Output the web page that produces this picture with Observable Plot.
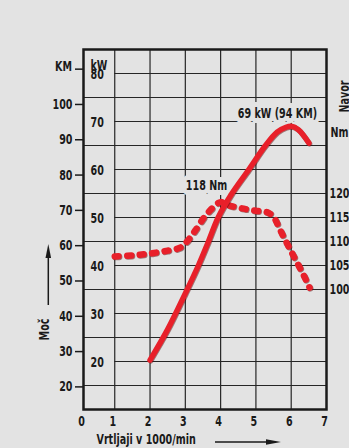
<!DOCTYPE html>
<html><head><meta charset="utf-8">
<script src="https://cdn.jsdelivr.net/npm/d3@7"></script>
<script src="https://cdn.jsdelivr.net/npm/@observablehq/plot@0.6"></script>
<style>
html,body{margin:0;padding:0;background:#e3e3e3;}
#chart svg{display:block;}
</style></head><body><div id="chart"></div>
<script>
// Power curve (kW) vs engine speed (1000/min)
const rpmPower = [2.0, 2.5, 3.0, 3.37, 3.65, 3.93, 4.32, 4.79, 5.26, 5.6, 5.85, 6.0, 6.2, 6.5];
const kwPower  = [20.3, 26.7, 34.2, 40.0, 44.9, 50.0, 55.0, 59.9, 64.9, 67.8, 68.8, 69.0, 68.3, 65.5];
// Torque curve (Nm) vs engine speed
const rpmTorque = [1.0, 1.5, 2.0, 2.5, 2.85, 3.07, 3.3, 3.55, 3.8, 4.0, 4.25, 4.6, 5.0, 5.35, 5.5, 5.7, 5.9, 6.1, 6.33, 6.52];
const nmTorque  = [106.9, 107.1, 107.5, 108.1, 108.7, 110.2, 112.5, 115.2, 117.2, 118.2, 117.5, 116.9, 116.4, 116.0, 115.1, 112.2, 109.3, 106.5, 103.3, 100.4];

const xTicks = [0, 1, 2, 3, 4, 5, 6, 7];
const kmTicks = [20, 30, 40, 50, 60, 70, 80, 90, 100, 110];
const kwTicks = [20, 30, 40, 50, 60, 70, 80];
const nmTicks = [100, 105, 110, 115, 120];
const gridFull = [15, 25, 35, 45, 55, 65, 75];
const gridPartial = [20, 30, 40, 50, 60, 70, 80];
const gridX = [1, 2, 3, 4, 5, 6];
const peakRpm = [5.61, 3.6];
const peakKw = [71.7, 56.6];
const peakText = ["69 kW (94 KM)", "118 Nm"];

const KW_PER_KM = 0.7355;   // 1 KM = 0.7355 kW
const NM_OFFSET = 65;       // torque scale shares the grid: Nm = kW + 65
const FIRST_STEP = 0.9;     // the 0–1 interval of the printed axis is slightly shorter

const BG = "#e3e3e3", INK = "#1a1a1a", RED = "#e8202a";
const FONT = "'DejaVu Sans Condensed', 'DejaVu Sans', sans-serif";

const powerData = rpmPower.map((r, i) => ({rpm: r, kw: kwPower[i]}));
const torqueData = rpmTorque.map((r, i) => ({rpm: r, kw: nmTorque[i] - NM_OFFSET}));
const peaks = peakRpm.map((r, i) => ({rpm: r, kw: peakKw[i], text: peakText[i]}));

const plot = Plot.plot({
  width: 349, height: 448,
  marginLeft: 83, marginRight: 23, marginTop: 49, marginBottom: 39,
  style: {background: BG, fontFamily: FONT, fontSize: "14px", fontWeight: "bold", color: INK},
  x: {domain: [0, 7], transform: r => r <= 1 ? FIRST_STEP * r : FIRST_STEP + (r - 1) * (7 - FIRST_STEP) / 6},
  y: {domain: [10, 85]},
  marks: [
    Plot.ruleY(gridFull, {x1: 0, x2: 7, stroke: "#262626", strokeWidth: 1.2}),
    Plot.ruleY(gridPartial, {x1: 1, x2: 7, stroke: "#262626", strokeWidth: 1.2}),
    Plot.ruleX(gridX, {stroke: "#262626", strokeWidth: 1.2}),
    Plot.text(peaks, {x: "rpm", y: "kw", text: "text", fill: INK, stroke: BG, strokeWidth: 10}),
    Plot.line(torqueData, {x: "rpm", y: "kw", curve: "catmull-rom", stroke: "#5a0c0c", strokeOpacity: 0.5, strokeWidth: 6.5, dx: 0.7, dy: 0.7, strokeDasharray: "4,8.5", strokeLinecap: "round"}),
    Plot.line(torqueData, {x: "rpm", y: "kw", curve: "catmull-rom", stroke: RED, strokeWidth: 6.5, strokeDasharray: "4,8.5", strokeLinecap: "round"}),
    Plot.line(powerData, {x: "rpm", y: "kw", curve: "catmull-rom", stroke: "#5a0c0c", strokeOpacity: 0.5, strokeWidth: 5.5, dx: 0.7, dy: 0.7, strokeLinecap: "round"}),
    Plot.line(powerData, {x: "rpm", y: "kw", curve: "catmull-rom", stroke: RED, strokeWidth: 5.5, strokeLinecap: "round"}),
    Plot.frame({stroke: INK, strokeWidth: 2.5}),
    Plot.axisX(xTicks, {tickSize: 0, tickPadding: 7, dx: -2, label: null}),
    Plot.axisY(kmTicks.map(k => k * KW_PER_KM), {anchor: "left", tickSize: 8, tickPadding: 3, strokeWidth: 1.5,
      tickFormat: d => { const k = Math.round(d / KW_PER_KM); return k === 110 ? "" : String(k); }, label: null}),
    Plot.axisY(nmTicks.map(n => n - NM_OFFSET), {anchor: "right", tickSize: 0, tickPadding: 3,
      tickFormat: d => String(Math.round(d + NM_OFFSET)), label: null}),
    Plot.text(kwTicks, {y: d => d, text: d => String(d), frameAnchor: "left", dx: 7, dy: 1, textAnchor: "start"}),
    Plot.text(["KM"], {text: d => d, frameAnchor: "top-left", dx: -20, dy: 12, textAnchor: "middle"}),
    Plot.text(["kW"], {text: d => d, frameAnchor: "top-left", dx: 7, dy: 11, textAnchor: "start"}),
    Plot.text(["Nm"], {text: d => d, frameAnchor: "top-right", dx: 4, dy: 78, textAnchor: "start"}),
    Plot.text(["Navor"], {text: d => d, frameAnchor: "top-right", dx: 12.5, dy: 47, rotate: -90, textAnchor: "middle"}),
    Plot.text(["Moč"], {text: d => d, frameAnchor: "bottom-left", dx: -35, dy: -80, rotate: -90, textAnchor: "middle"}),
    Plot.text(["Vrtljaji v 1000/min"], {text: d => d, frameAnchor: "bottom-left", dx: 13, dy: 34, textAnchor: "start"})
  ]
});
document.getElementById("chart").appendChild(plot);

const svg = d3.select(plot);
// condense the lettering like the printed narrow typeface
svg.selectAll("text").each(function () {
  const t = this.getAttribute("transform");
  if (t) this.setAttribute("transform", t + " scale(0.76,1)");
});
// axis-title arrows
const g = svg.append("g").attr("fill", INK).attr("stroke", INK);
g.append("line").attr("x1", 215).attr("y1", 442).attr("x2", 268).attr("y2", 442).attr("stroke-width", 1.5);
g.append("path").attr("d", "M266,439.2L281,442L266,444.8Z").attr("stroke", "none");
g.append("line").attr("x1", 48.3).attr("y1", 305).attr("x2", 48.3).attr("y2", 256).attr("stroke-width", 1.5);
g.append("path").attr("d", "M45.5,258L48.3,244L51.1,258Z").attr("stroke", "none");
</script></body></html>
